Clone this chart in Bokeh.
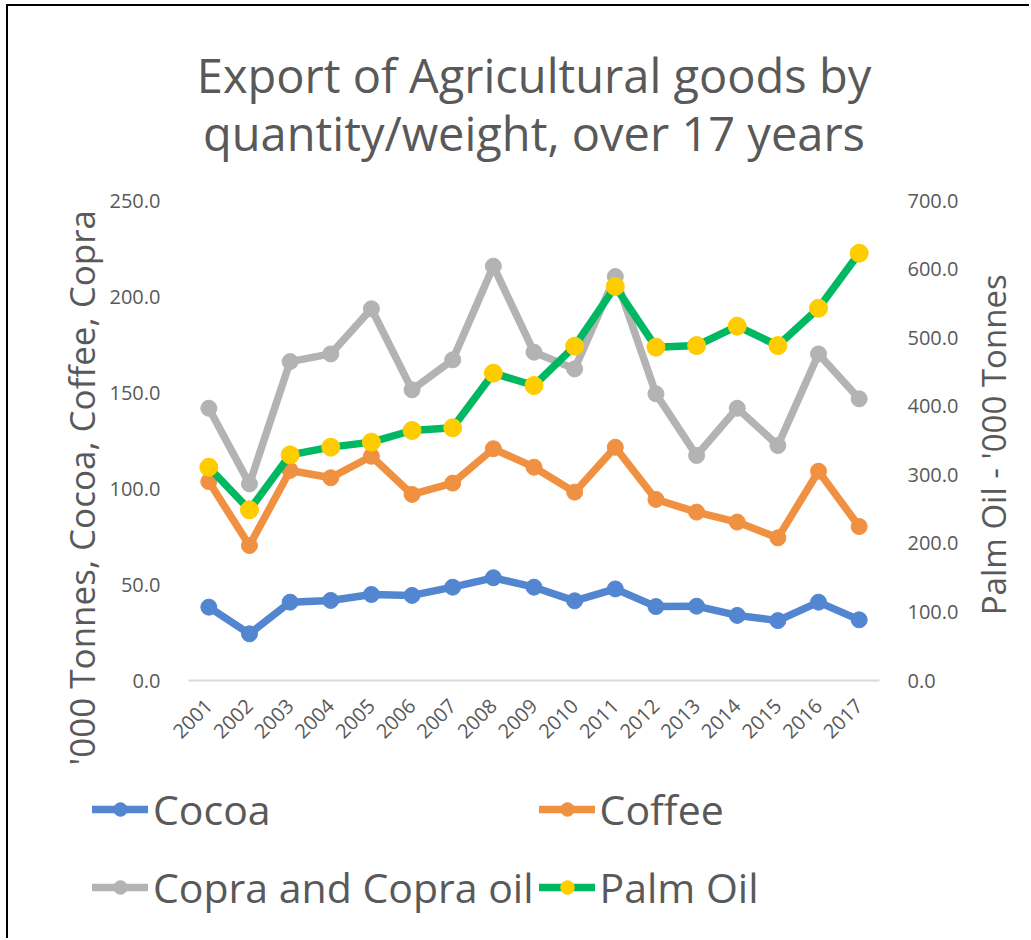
import math
from bokeh.plotting import figure
from bokeh.layouts import column, row
from bokeh.models import (Range1d, LinearAxis, FixedTicker, NumeralTickFormatter, Title,
                          Legend, LegendItem, FactorRange)
from bokeh.embed import file_html
from bokeh.resources import INLINE

years = ["2001", "2002", "2003", "2004", "2005", "2006", "2007", "2008", "2009",
         "2010", "2011", "2012", "2013", "2014", "2015", "2016", "2017"]
cocoa = [38.2, 24.3, 40.8, 41.7, 44.8, 44.3, 48.6, 53.5, 48.6, 41.5, 47.7, 38.5, 38.7, 33.9, 31.2, 40.8, 31.6]
coffee = [103.6, 70.3, 109.4, 105.6, 116.8, 96.9, 102.8, 120.7, 111.1, 98.1, 121.5, 94.3, 87.7, 82.5, 74.3, 109.0, 80.2]
copra = [141.8, 102.4, 166.1, 170.1, 193.6, 151.4, 167.0, 215.8, 171.0, 162.3, 210.4, 149.3, 117.2, 141.8, 122.4, 170.1, 146.7]
palm = [311.0, 248.9, 329.1, 340.3, 347.6, 364.6, 368.5, 448.2, 430.2, 487.6, 574.6, 486.1, 488.5, 516.7, 488.5, 543.0, 623.2]

left_ticks = [0, 50, 100, 150, 200, 250]
right_ticks = [0, 100, 200, 300, 400, 500, 600, 700]

series_names = ["Cocoa", "Coffee", "Copra and Copra oil", "Palm Oil"]
title_lines = ["Export of Agricultural goods by", "quantity/weight, over 17 years"]
left_label = "'000 Tonnes, Cocoa, Coffee, Copra"
right_label = "Palm Oil  - '000 Tonnes"

FONT = "Open Sans"
TXT = "#595959"
C_COCOA = "#5286D1"
C_COFFEE = "#F09142"
C_COPRA = "#B3B3B3"
C_PALM = "#00B862"
C_PALM_M = "#FFCC00"

# ---------------- main chart ----------------
p = figure(width=953, height=764, x_range=FactorRange(*years), y_range=Range1d(0, 250),
           output_backend="svg", toolbar_location=None,
           min_border_left=180, min_border_right=80, min_border_top=194, min_border_bottom=90)
p.styles = {"margin-left": "6px", "margin-top": "4px",
            "border-left": "2px solid black", "border-top": "2px solid black"}
p.extra_y_ranges = {"palm": Range1d(0, 700)}
p.outline_line_color = None
p.xgrid.grid_line_color = None
p.ygrid.grid_line_color = None
p.background_fill_color = "white"
p.border_fill_color = "white"

xa = p.xaxis[0]
xa.major_tick_line_color = None
xa.minor_tick_line_color = None
xa.axis_line_color = "#D9D9D9"
xa.axis_line_width = 2
xa.major_label_orientation = math.pi / 4
xa.major_label_text_font = FONT
xa.major_label_text_font_size = "20px"
xa.major_label_text_color = TXT
xa.major_label_standoff = 16

ya = p.yaxis[0]
ya.ticker = FixedTicker(ticks=left_ticks)
ya.formatter = NumeralTickFormatter(format="0.0")
ya.major_tick_line_color = None
ya.minor_tick_line_color = None
ya.axis_line_color = None
ya.major_label_text_font = FONT
ya.major_label_text_font_size = "20px"
ya.major_label_text_color = TXT
ya.major_label_standoff = 22

ra = LinearAxis(y_range_name="palm", ticker=FixedTicker(ticks=right_ticks),
                formatter=NumeralTickFormatter(format="0.0"))
ra.major_tick_line_color = None
ra.minor_tick_line_color = None
ra.axis_line_color = None
ra.major_label_text_font = FONT
ra.major_label_text_font_size = "20px"
ra.major_label_text_color = TXT
ra.major_label_standoff = 22
p.add_layout(ra, "right")

LW = 7.5
p.line(years, cocoa, line_width=LW, color=C_COCOA, line_join="round")
p.scatter(years, cocoa, size=16, color=C_COCOA)
p.line(years, coffee, line_width=LW, color=C_COFFEE, line_join="round")
p.scatter(years, coffee, size=16, color=C_COFFEE)
p.line(years, copra, line_width=LW, color=C_COPRA, line_join="round")
p.scatter(years, copra, size=16, color=C_COPRA)
p.line(years, palm, line_width=LW, color=C_PALM, line_join="round", y_range_name="palm")
p.scatter(years, palm, size=18, color=C_PALM_M, y_range_name="palm")

# title: spacer nearest the frame, then line 2, then line 1
p.add_layout(Title(text=" ", text_font_size="10px", standoff=30), "above")
p.add_layout(Title(text=title_lines[1], align="center", offset=-4, standoff=-14,
                   text_font=FONT, text_font_size="47px", text_font_style="normal",
                   text_color=TXT), "above")
p.add_layout(Title(text=title_lines[0], align="center", offset=-4, standoff=-2,
                   text_font=FONT, text_font_size="47px", text_font_style="normal",
                   text_color=TXT), "above")

# left axis title (starts below the frame bottom, like the reference)
p.add_layout(Title(text=left_label, align="left", offset=-85, standoff=4,
                   text_font=FONT, text_font_size="35px", text_font_style="normal",
                   text_color=TXT), "left")

# ---------------- right axis title strip (text reads bottom-to-top) ----------------
r = figure(width=70, height=764, x_range=Range1d(0, 1), y_range=Range1d(0, 1),
           x_axis_type=None, y_axis_type=None, output_backend="svg", toolbar_location=None,
           min_border_left=64, min_border_right=0, min_border_top=194, min_border_bottom=90)
r.styles = {"margin-top": "4px", "border-top": "2px solid black"}
r.outline_line_color = None
r.grid.grid_line_color = None
r.background_fill_color = "white"
r.border_fill_color = "white"
r.add_layout(Title(text=right_label, align="center", standoff=18,
                   text_font=FONT, text_font_size="33px", text_font_style="normal",
                   text_color=TXT), "left")

# ---------------- legend strip ----------------
q = figure(width=1023, height=170, x_range=Range1d(0, 1), y_range=Range1d(-2, -1),
           x_axis_type=None, y_axis_type=None, output_backend="svg",
           toolbar_location=None, min_border=0)
q.styles = {"margin-left": "6px", "border-left": "2px solid black"}
q.outline_line_color = None
q.background_fill_color = "white"
q.border_fill_color = "white"
q.grid.grid_line_color = None
for fig in (p, r, q):
    if "frame_align" in fig.properties():
        fig.frame_align = False

# legend renderers carry the series data but lie outside this strip's view
xi = list(range(len(years)))
g_cocoa = [q.line(xi, cocoa, line_width=LW, color=C_COCOA, line_cap="round"),
           q.scatter(xi, cocoa, size=16, color=C_COCOA)]
g_coffee = [q.line(xi, coffee, line_width=LW, color=C_COFFEE, line_cap="round"),
            q.scatter(xi, coffee, size=16, color=C_COFFEE)]
g_copra = [q.line(xi, copra, line_width=LW, color=C_COPRA, line_cap="round"),
           q.scatter(xi, copra, size=16, color=C_COPRA)]
g_palm = [q.line(xi, palm, line_width=LW, color=C_PALM, line_cap="round"),
          q.scatter(xi, palm, size=18, color=C_PALM_M)]

# column-major filling: column 1 = Cocoa, Copra; column 2 = Coffee, Palm Oil
legend = Legend(items=[
    LegendItem(label=series_names[0], renderers=g_cocoa),
    LegendItem(label=series_names[2], renderers=g_copra),
    LegendItem(label=series_names[1], renderers=g_coffee),
    LegendItem(label=series_names[3], renderers=g_palm),
], location=(84, 15), ncols=2)
legend.padding = 0
legend.margin = 0
legend.spacing = 5
legend.glyph_width = 56
legend.glyph_height = 34
legend.label_height = 73
legend.label_standoff = 5
legend.label_text_font = FONT
legend.label_text_font_size = "41px"
legend.label_text_color = TXT
legend.border_line_alpha = 0
legend.background_fill_alpha = 0
q.add_layout(legend)

layout = column(row(p, r, spacing=0), q, spacing=0)
open("out.html", "w").write(file_html(layout, INLINE))
